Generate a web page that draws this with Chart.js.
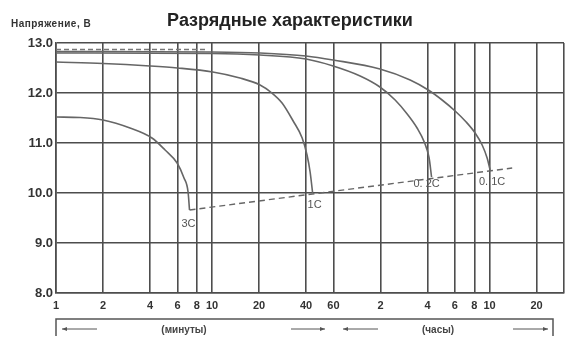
<!DOCTYPE html>
<html>
<head>
<meta charset="utf-8">
<script src="https://cdn.jsdelivr.net/npm/chart.js@4"></script>
<style>
  body { margin: 0; background: #fff; }
  #wrap { width: 580px; height: 348px; }
</style>
</head>
<body>
<div id="wrap"><canvas id="discharge"></canvas></div>
<script>
// время разряда, минуты (ось X логарифмическая)
const xTickValues = [1, 2, 4, 6, 8, 10, 20, 40, 60, 120, 240, 360, 480, 600, 1200, 1800];
const xTickLabels = ['1', '2', '4', '6', '8', '10', '20', '40', '60', '2', '4', '6', '8', '10', '20', ''];

const min3C = [1, 1.43, 2, 2.98, 4.12, 5.0, 5.97, 6.61, 7.02, 7.17];
const volt3C = [11.52, 11.51, 11.46, 11.3, 11.1, 10.86, 10.6, 10.3, 10.02, 9.66];

const min1C = [1, 2, 4, 6, 10.1, 15.1, 20.3, 24.2, 28.1, 33.1, 37.8, 40.6, 42.5, 44.1];
const volt1C = [12.62, 12.59, 12.54, 12.5, 12.42, 12.3, 12.16, 12.0, 11.8, 11.44, 11.1, 10.76, 10.42, 10.0];

const min02C = [1, 10, 20.3, 40, 59.7, 88.9, 119, 149, 178, 206, 229, 246, 255];
const volt02C = [12.8, 12.79, 12.76, 12.68, 12.54, 12.34, 12.12, 11.86, 11.58, 11.3, 11.02, 10.7, 10.32];

const min01C = [1, 10, 20.3, 40, 59.7, 119, 186, 243, 298, 361, 425, 485, 538, 579, 605];
const volt01C = [12.83, 12.82, 12.8, 12.74, 12.66, 12.48, 12.26, 12.06, 11.86, 11.64, 11.42, 11.2, 10.96, 10.7, 10.46];

const topDashMin = [1, 9.3];
const topDashV = [12.87, 12.87];

const cutoffMin = [7.17, 838];
const cutoffV = [9.66, 10.5];

const curveNames = ['3C', '1C', '0. 2C', '0. 1C'];

const pts = (xs, ys) => xs.map((x, i) => ({ x: x, y: ys[i] }));

const lineColor = '#666';
const gridColor = '#4d4d4d';

const curve = (label, xs, ys) => ({
  label: label,
  data: pts(xs, ys),
  borderColor: lineColor,
  borderWidth: 1.6,
  pointRadius: 0,
  cubicInterpolationMode: 'monotone',
  fill: false
});

// подписи кривых, заголовок и скобка под осью
const extras = {
  id: 'extras',
  afterDraw(chart) {
    const ctx = chart.ctx;
    ctx.save();
    ctx.fillStyle = '#222';
    ctx.textBaseline = 'middle';
    ctx.textAlign = 'center';
    ctx.font = 'bold 18px "Liberation Sans", Arial, sans-serif';
    ctx.fillText('Разрядные характеристики', 290, 21);
    ctx.textAlign = 'left';
    ctx.font = 'bold 10px "Liberation Sans", Arial, sans-serif';
    ctx.letterSpacing = '0.5px';
    ctx.fillStyle = '#333';
    ctx.fillText('Напряжение, В', 11, 24);
    ctx.letterSpacing = '0px';

    // подписи на концах кривых
    const offs = [[-1, 14], [2, 12], [-5, 7], [2, 12]];
    ctx.font = '11px "Liberation Sans", Arial, sans-serif';
    ctx.fillStyle = '#555';
    ctx.textAlign = 'center';
    curveNames.forEach((name, i) => {
      const meta = chart.getDatasetMeta(i);
      const p = meta.data[meta.data.length - 1];
      ctx.fillText(name, p.x + offs[i][0], p.y + offs[i][1]);
    });

    // скобка
    ctx.strokeStyle = '#555';
    ctx.lineWidth = 1.5;
    ctx.beginPath();
    ctx.moveTo(56, 336); ctx.lineTo(56, 319); ctx.lineTo(553, 319); ctx.lineTo(553, 336);
    ctx.stroke();

    const arrow = (x1, x2, y) => {
      ctx.lineWidth = 1;
      ctx.beginPath();
      ctx.moveTo(x1, y); ctx.lineTo(x2, y);
      ctx.stroke();
      const d = x2 > x1 ? -1 : 1;
      ctx.beginPath();
      ctx.moveTo(x2, y); ctx.lineTo(x2 + d * 5, y - 2); ctx.lineTo(x2 + d * 5, y + 2);
      ctx.closePath();
      ctx.fillStyle = '#555';
      ctx.fill();
    };
    arrow(97, 62, 329);
    arrow(291, 325, 329);
    arrow(378, 343, 329);
    arrow(513, 548, 329);

    ctx.font = 'bold 10px "Liberation Sans", Arial, sans-serif';
    ctx.fillStyle = '#444';
    ctx.textAlign = 'center';
    ctx.fillText('(минуты)', 184, 330);
    ctx.fillText('(часы)', 438, 330);
    ctx.restore();
  }
};

new Chart(document.getElementById('discharge'), {
  type: 'line',
  data: {
    datasets: [
      curve('3C', min3C, volt3C),
      curve('1C', min1C, volt1C),
      curve('0.2C', min02C, volt02C),
      curve('0.1C', min01C, volt01C),
      {
        label: 'top',
        data: pts(topDashMin, topDashV),
        borderColor: '#777',
        borderWidth: 1.4,
        borderDash: [5, 3],
        pointRadius: 0
      },
      {
        label: 'cutoff',
        data: pts(cutoffMin, cutoffV),
        borderColor: '#666',
        borderWidth: 1.4,
        borderDash: [6, 4],
        pointRadius: 0
      }
    ]
  },
  options: {
    responsive: true,
    maintainAspectRatio: false,
    animation: false,
    layout: { padding: { top: 43, left: 0, right: 16, bottom: 0 } },
    plugins: {
      legend: { display: false },
      tooltip: { enabled: false }
    },
    scales: {
      x: {
        type: 'logarithmic',
        min: 1,
        max: 1800,
        afterBuildTicks: (s) => { s.ticks = xTickValues.map(v => ({ value: v })); },
        afterFit: (s) => { s.height = 55; },
        grid: { color: gridColor, lineWidth: 1.6, drawTicks: false },
        border: { color: gridColor, width: 1.6 },
        ticks: {
          autoSkip: false,
          maxRotation: 0,
          padding: 6,
          color: '#333',
          font: { family: '"Liberation Sans", Arial, sans-serif', size: 11, weight: 'bold' },
          callback: (v, i) => xTickLabels[i]
        }
      },
      y: {
        min: 8,
        max: 13,
        afterFit: (s) => { s.width = 56; },
        grid: { color: gridColor, lineWidth: 1.6, drawTicks: false },
        border: { color: gridColor, width: 1.6 },
        ticks: {
          stepSize: 1,
          padding: 3,
          color: '#333',
          font: { family: '"Liberation Sans", Arial, sans-serif', size: 13, weight: 'bold' },
          callback: (v) => v.toFixed(1)
        }
      }
    }
  },
  plugins: [extras]
});
</script>
</body>
</html>
